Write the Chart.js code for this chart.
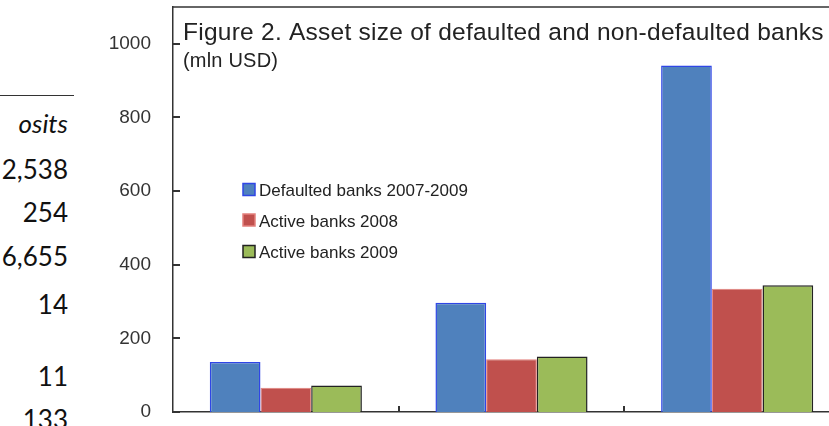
<!DOCTYPE html>
<html>
<head>
<meta charset="utf-8">
<script src="https://cdn.jsdelivr.net/npm/chart.js@4/dist/chart.umd.min.js"></script>
<style>
  html, body { margin: 0; padding: 0; background: #fff; overflow: hidden; width: 829px; height: 426px; }
  #chartBox { position: absolute; left: 0; top: 0; width: 860px; height: 426px; }
  .tabla { position: absolute; left: 0; width: 68px; text-align: right; font-family: Lato, "Open Sans", sans-serif; font-size: 26px; color: #111; line-height: 1; }
  #raya { position: absolute; left: 0; top: 95px; width: 74px; height: 0; border-top: 1.5px solid #333; }
</style>
</head>
<body>
<!-- trozo de la tabla vecina que asoma a la izquierda -->
<div id="raya"></div>
<div class="tabla" style="top:110px; font-style:italic;">osits</div>
<div class="tabla" style="top:156px;">2,538</div>
<div class="tabla" style="top:199px;">254</div>
<div class="tabla" style="top:243px;">6,655</div>
<div class="tabla" style="top:291px;">14</div>
<div class="tabla" style="top:363px;">11</div>
<div class="tabla" style="top:406px;">133</div>

<div id="chartBox"><canvas id="assetChart" width="860" height="426"></canvas></div>

<script>
// Datos (mln USD)
const categorias = ['Grupo 1', 'Grupo 2', 'Grupo 3'];
const quebrados = [136, 297, 941];
const activos2008 = [66, 143, 335];
const activos2009 = [72, 151, 344];
const nombresSeries = ['Defaulted banks 2007-2009', 'Active banks 2008', 'Active banks 2009'];
const marcasY = [0, 200, 400, 600, 800, 1000];
const tituloTexto = 'Figure 2. Asset size of defaulted and non-defaulted banks';
const subtituloTexto = '(mln USD)';
const ejeMax = 1000;
const ejePaso = 200;

document.addEventListener('DOMContentLoaded', function() {
    const FUENTE = '"Liberation Sans", Arial, sans-serif';

    // Marcas de los ejes hacia dentro, linea superior del marco y titulo
    const marcoYTitulo = {
        id: 'marcoYTitulo',
        afterDraw(chart) {
            const ctx = chart.ctx;
            const area = chart.chartArea;
            const ex = chart.scales.x;
            const ey = chart.scales.y;
            ctx.save();
            ctx.strokeStyle = '#333';
            ctx.lineWidth = 1.5;
            ctx.beginPath();
            ctx.moveTo(area.left, area.top);
            ctx.lineTo(area.right, area.top);
            ctx.stroke();

            // marcas del eje y
            ctx.beginPath();
            ctx.lineWidth = 2;
            marcasY.forEach(v => {
                const y = Math.round(ey.getPixelForValue(v));
                ctx.moveTo(area.left - 1, y);
                ctx.lineTo(area.left + 7, y);
            });
            // marcas del eje x entre categorias
            const mitad = (ex.getPixelForValue(1) - ex.getPixelForValue(0)) / 2;
            for (let i = 0; i < categorias.length; i++) {
                const x = Math.round(ex.getPixelForValue(i) + mitad);
                ctx.moveTo(x, area.bottom);
                ctx.lineTo(x, area.bottom - 6);
            }
            ctx.stroke();

            ctx.fillStyle = '#222';
            ctx.textBaseline = 'alphabetic';
            ctx.textAlign = 'left';
            ctx.font = '24.5px ' + FUENTE;
            ctx.letterSpacing = '0.25px';
            ctx.fillText(tituloTexto, area.left + 10, 39.5);
            ctx.font = '20px ' + FUENTE;
            ctx.letterSpacing = '0.2px';
            ctx.fillText(subtituloTexto, area.left + 10, 66.5);
            ctx.letterSpacing = '0px';
            ctx.restore();
        }
    };

    // Leyenda dentro del area de trazado
    const leyendaInterna = {
        id: 'leyendaInterna',
        afterDraw(chart) {
            const ctx = chart.ctx;
            const bases = [196, 226.5, 258];
            ctx.save();
            ctx.font = '17px ' + FUENTE;
            ctx.textBaseline = 'alphabetic';
            ctx.textAlign = 'left';
            chart.data.datasets.forEach((ds, i) => {
                const y = bases[i];
                ctx.fillStyle = ds.backgroundColor;
                ctx.fillRect(243, y - 12.5, 12, 12);
                ctx.strokeStyle = ds.borderColor;
                ctx.lineWidth = 1.5;
                ctx.strokeRect(243, y - 12.5, 12, 12);
                ctx.fillStyle = '#222';
                ctx.fillText(ds.label, 259, y);
            });
            ctx.restore();
        }
    };

    const ctx = document.getElementById('assetChart').getContext('2d');
    new Chart(ctx, {
        type: 'bar',
        data: {
            labels: categorias,
            datasets: [
                { label: nombresSeries[0], data: quebrados, backgroundColor: '#4F81BD', borderColor: '#2f46e6', borderWidth: 1.5 },
                { label: nombresSeries[1], data: activos2008, backgroundColor: '#C0504D', borderColor: '#e3807c', borderWidth: 1 },
                { label: nombresSeries[2], data: activos2009, backgroundColor: '#9BBB59', borderColor: '#222', borderWidth: 1.5 }
            ]
        },
        options: {
            responsive: false,
            animation: false,
            devicePixelRatio: 1,
            layout: { padding: { top: 7, right: 10, left: 0, bottom: 0 } },
            categoryPercentage: 0.674,
            barPercentage: 1,
            plugins: {
                legend: { display: false },
                title: { display: false },
                tooltip: { enabled: false }
            },
            scales: {
                x: {
                    ticks: { display: false },
                    grid: { display: false },
                    border: { display: true, color: '#333', width: 1.5 },
                    afterFit: s => { s.height = 14; }
                },
                y: {
                    min: 0,
                    max: 1100,
                    ticks: {
                        stepSize: ejePaso,
                        padding: 14,
                        color: '#333',
                        font: { family: FUENTE, size: 19 },
                        callback: v => String(v)
                    },
                    grid: { display: false },
                    border: { display: true, color: '#333', width: 1.5 },
                    afterBuildTicks: s => { s.ticks = s.ticks.filter(t => t.value <= ejeMax); },
                    afterFit: s => { s.width = 173; s.paddingTop = 0; s.paddingBottom = 0; }
                }
            }
        },
        plugins: [marcoYTitulo, leyendaInterna]
    });
});
</script>
</body>
</html>
